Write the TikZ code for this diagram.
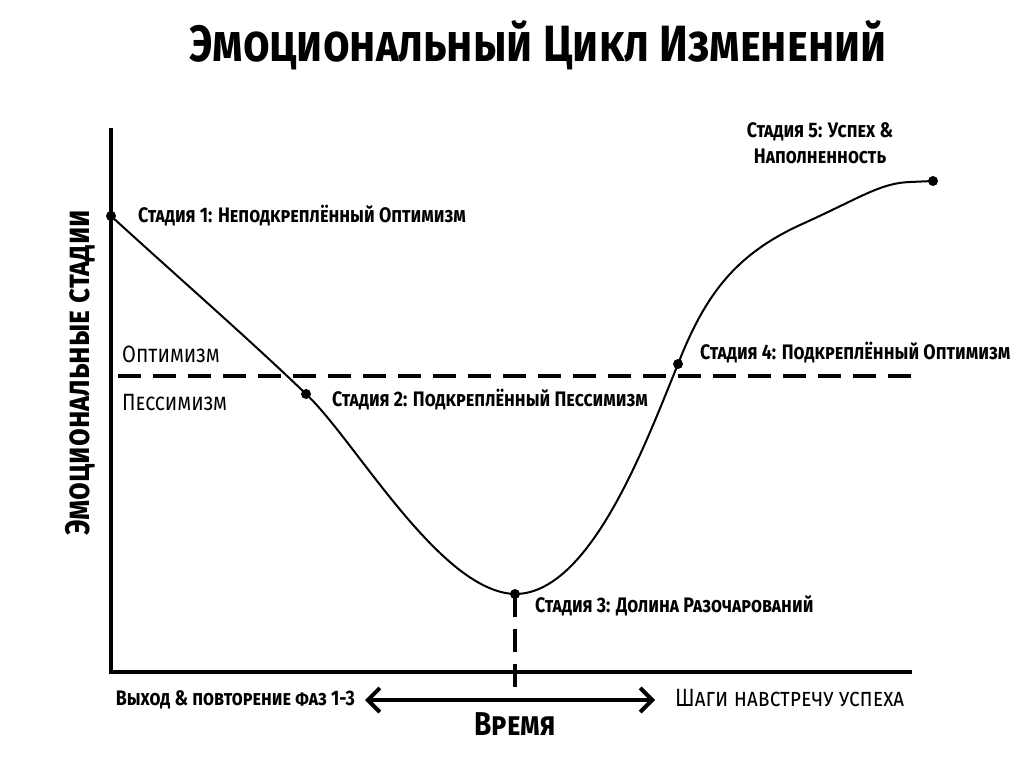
\documentclass[tikz,border=0pt]{standalone}
\usepackage{fontspec}
\setmainfont{Fira Sans}[FakeStretch=0.85]
\usetikzlibrary{arrows.meta}

\tikzset{
  dot/.style={circle, fill, inner sep=0pt, minimum size=10pt},
  stagelabel/.style={anchor=base west, inner sep=0pt, font=\fontsize{21}{24}\selectfont\bfseries\scshape},
  zonelabel/.style={anchor=base west, inner sep=0pt, font=\fontsize{23.5}{26}\selectfont\scshape},
  axis/.style={line width=4pt, line join=miter},
  curve/.style={line width=2pt},
  divider/.style={line width=4pt, dash pattern=on 23pt off 12pt}
}

\begin{document}
\begin{tikzpicture}[x=1pt, y=-1pt]
        \useasboundingbox (0,0) rectangle (1024,768);
        % Title
        \node[inner sep=0pt, anchor=base, font=\fontsize{51}{56}\selectfont\bfseries\scshape] (title) at (538,62) {Эмоциональный Цикл Изменений};
        % Draw axes
        \coordinate (ytop) at (111,128);
        \coordinate (origin) at (111,672);
        \coordinate (xend) at (912,672);
        \draw[axis] (ytop) -- (origin) -- (xend);
        \node[rotate=90, inner sep=0pt, font=\fontsize{34}{38}\selectfont\bfseries\scshape] (ylabel) at (80,373) {Эмоциональные стадии};
        % Draw optimism / pessimism border
        \coordinate (dl) at (118,376);
        \coordinate (dr) at (915,376);
        \draw[divider] (dl) -- (dr);
        \node[zonelabel] (opt) at (122,362) {Оптимизм};
        \node[zonelabel] (pes) at (122,410) {Пессимизм};
        % Stage points
        \node[dot] (s1) at (111,216) {};
        \node[dot] (s2) at (306,394) {};
        \node[dot] (s3) at (515,594) {};
        \node[dot] (s4) at (678,364) {};
        \node[dot] (s5) at (933,181) {};
        % Draw the curve
        \draw[curve] (s1.center) .. controls (180,279) and (250,340) .. (s2.center)
          .. controls (355,440) and (440,592) .. (s3.center)
          .. controls (590,594) and (645,445) .. (s4.center)
          .. controls (705,295) and (735,255) .. (800,225)
          .. controls (860,198) and (880,183) .. (910,182) -- (s5.center);
        % Label stages
        \node[stagelabel] (l1) at (138,222) {Стадия 1: Неподкреплённый Оптимизм};
        \node[stagelabel] (l2) at (332,406) {Стадия 2: Подкреплённый Пессимизм};
        \node[stagelabel] (l3) at (535,612) {Стадия 3: Долина Разочарований};
        \node[stagelabel] (l4) at (700,359) {Стадия 4: Подкреплённый Оптимизм};
        \node[stagelabel, anchor=base, align=center] (l5) at (820,163) {Стадия 5: Успех \&\\[2pt] Наполненность};
        % Draw time arrow
        \coordinate (tm) at (515,700);
        \coordinate (tl) at (365,700);
        \coordinate (tr) at (655,700);
        \draw[divider] (s3.center) -- (tm);
        \draw[line width=4pt, {Straight Barb[length=12pt,width=24pt]}-{Straight Barb[length=12pt,width=24pt]}] (tl) -- (tr);
        \node[inner sep=0pt, anchor=base east, font=\fontsize{21}{24}\selectfont\bfseries\scshape] (back) at (355,705) {Выход \& повторение фаз 1-3};
        \node[inner sep=0pt, anchor=base west, font=\fontsize{25}{28}\selectfont\scshape] (fwd) at (675,706) {Шаги навстречу успеха};
        \node[inner sep=0pt, anchor=base, font=\fontsize{33}{36}\selectfont\bfseries\scshape] (time) at (515,735) {Время};
    \end{tikzpicture}
\end{document}
